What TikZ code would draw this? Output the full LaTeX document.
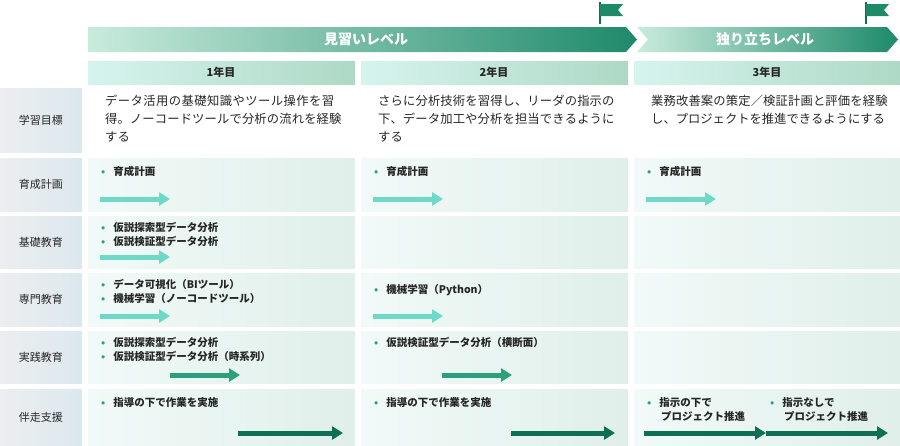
\documentclass[tikz,border=0pt]{standalone}
\usepackage{fontspec}
\setmainfont{Noto Sans CJK JP}
\XeTeXlinebreaklocale "ja"
\XeTeXlinebreakskip=0pt plus 1pt
\usetikzlibrary{arrows.meta}
\definecolor{lvlA}{HTML}{C9EBDD}
\definecolor{lvlB}{HTML}{1E8A6A}
\definecolor{yrA}{HTML}{D6F4EE}
\definecolor{yrB}{HTML}{AED9C6}
\definecolor{cellA}{HTML}{F1FAF8}
\definecolor{cellB}{HTML}{E0EFEA}
\definecolor{hdA}{HTML}{ECEEF0}
\definecolor{hdB}{HTML}{DCE8EE}
\definecolor{arrL}{HTML}{6FD9C8}
\definecolor{arrM}{HTML}{2AA07F}
\definecolor{arrD}{HTML}{0E6E56}
\definecolor{dotc}{HTML}{2AA07F}
\tikzset{
  every node/.style={font=\fontsize{11}{14}\selectfont, text=black!85},
  rowhead/.style={left color=hdA, right color=hdB, draw=none},
  cell/.style={left color=cellA, right color=cellB, draw=none},
  yearbox/.style={left color=yrA, right color=yrB, draw=none},
  item/.style={anchor=north west, align=left, inner sep=0pt, font=\fontsize{10.5}{14}\selectfont\bfseries},
  goal/.style={anchor=north west, align=left, inner sep=0pt, text width=240pt, font=\fontsize{12.3}{18}\selectfont},
  prog/.style={line width=5pt, -{Triangle[length=11pt,width=13pt]}},
}
\newcommand{\dotit}[1]{\textcolor{dotc}{\textbullet}\hspace{8pt}#1}
\begin{document}
\begin{tikzpicture}[x=1pt,y=-1pt]
\useasboundingbox (0,0) rectangle (900,445);

% level banners
\shade[left color=lvlA, right color=lvlB] (88,27) -- (626,27) -- (637,39.5) -- (626,52) -- (88,52) -- cycle;
\node[text=white, font=\fontsize{14}{14}\selectfont\bfseries] (lv1) at (366,39.5) {見習いレベル};
\shade[left color=lvlA, right color=lvlB] (637,27) -- (887,27) -- (898,39.5) -- (887,52) -- (637,52) -- (648,39.5) -- cycle;
\node[text=white, font=\fontsize{14}{14}\selectfont\bfseries] (lv2) at (765,39.5) {独り立ちレベル};

% flags
\foreach \fx in {600,866} {
  \draw[arrD, line width=1.2pt] (\fx,2) -- (\fx,24);
  \fill[lvlB] (\fx,4) -- (\fx+23,4) -- (\fx+18,10) -- (\fx+23,16) -- (\fx,16) -- cycle;
}

% years
\foreach \yx/\yt in {88/1年目, 361/2年目, 634/3年目} {
  \shade[yearbox] (\yx,61) rectangle (\yx+267,84);
  \node[font=\fontsize{11}{11}\selectfont\bfseries] at (\yx+133,72.5) {\yt};
}

% rows
\foreach \ya/\yb/\rt in {88/152/学習目標, 158/211/育成計画, 216/268/基礎教育, 273/326/専門教育, 331/383/実践教育, 389/445/伴走支援} {
  \shade[rowhead] (0,\ya) rectangle (82,\yb);
  \node at (41,{(\ya+\yb)/2}) {\rt};
}
\foreach \ya/\yb in {158/211, 216/268, 273/326, 331/383, 389/445} {
  \foreach \yx in {88,361,634}
    \shade[cell] (\yx,\ya) rectangle (\yx+267,\yb);
}

% goals
\node[goal] (g1) at (105,95) {データ活用の基礎知識やツール操作を習得。ノーコードツールで分析の流れを経験する};
\node[goal] (g2) at (378,95) {さらに分析技術を習得し、リーダの指示の下、データ加工や分析を担当できるようにする};
\node[goal] (g3) at (651,95) {業務改善案の策定／検証計画と評価を経験し、プロジェクトを推進できるようにする};

% items
\node[item] (p1) at (101,166) {\dotit{育成計画}};
\node[item] (p2) at (374,166) {\dotit{育成計画}};
\node[item] (p3) at (647,166) {\dotit{育成計画}};
\node[item] (k1) at (101,222) {\dotit{仮説探索型データ分析}\\\dotit{仮説検証型データ分析}};
\node[item] (s1) at (101,279) {\dotit{データ可視化（BIツール）}\\\dotit{機械学習（ノーコードツール）}};
\node[item] (s2) at (374,284) {\dotit{機械学習（Python）}};
\node[item] (j1) at (101,337) {\dotit{仮説探索型データ分析}\\\dotit{仮説検証型データ分析（時系列）}};
\node[item] (j2) at (374,337) {\dotit{仮説検証型データ分析（横断面）}};
\node[item] (b1) at (101,397) {\dotit{指導の下で作業を実施}};
\node[item] (b2) at (374,397) {\dotit{指導の下で作業を実施}};
\node[item] (b3) at (647,397) {\dotit{指示の下で}\\\hspace{14pt}プロジェクト推進};
\node[item] (b4) at (770,397) {\dotit{指示なしで}\\\hspace{14pt}プロジェクト推進};

% progress arrows
\coordinate (a1s) at (100,199); \coordinate (a1e) at (170,199);
\coordinate (a2s) at (373,199); \coordinate (a2e) at (443,199);
\coordinate (a3s) at (646,199); \coordinate (a3e) at (716,199);
\coordinate (a4s) at (100,257); \coordinate (a4e) at (170,257);
\coordinate (a5s) at (100,316); \coordinate (a5e) at (170,316);
\coordinate (a6s) at (373,316); \coordinate (a6e) at (443,316);
\coordinate (a7s) at (170,375); \coordinate (a7e) at (240,375);
\coordinate (a8s) at (442,375); \coordinate (a8e) at (512,375);
\coordinate (a9s) at (238,433); \coordinate (a9e) at (343,433);
\coordinate (a10s) at (511,433); \coordinate (a10e) at (615,433);
\coordinate (a11s) at (644,433); \coordinate (a11e) at (766,433);
\coordinate (a12s) at (766,433); \coordinate (a12e) at (888,433);
\foreach \n in {1,...,6} \draw[prog, arrL] (a\n s) -- (a\n e);
\foreach \n in {7,8} \draw[prog, arrM] (a\n s) -- (a\n e);
\foreach \n in {9,...,12} \draw[prog, arrD] (a\n s) -- (a\n e);

\end{tikzpicture}
\end{document}
